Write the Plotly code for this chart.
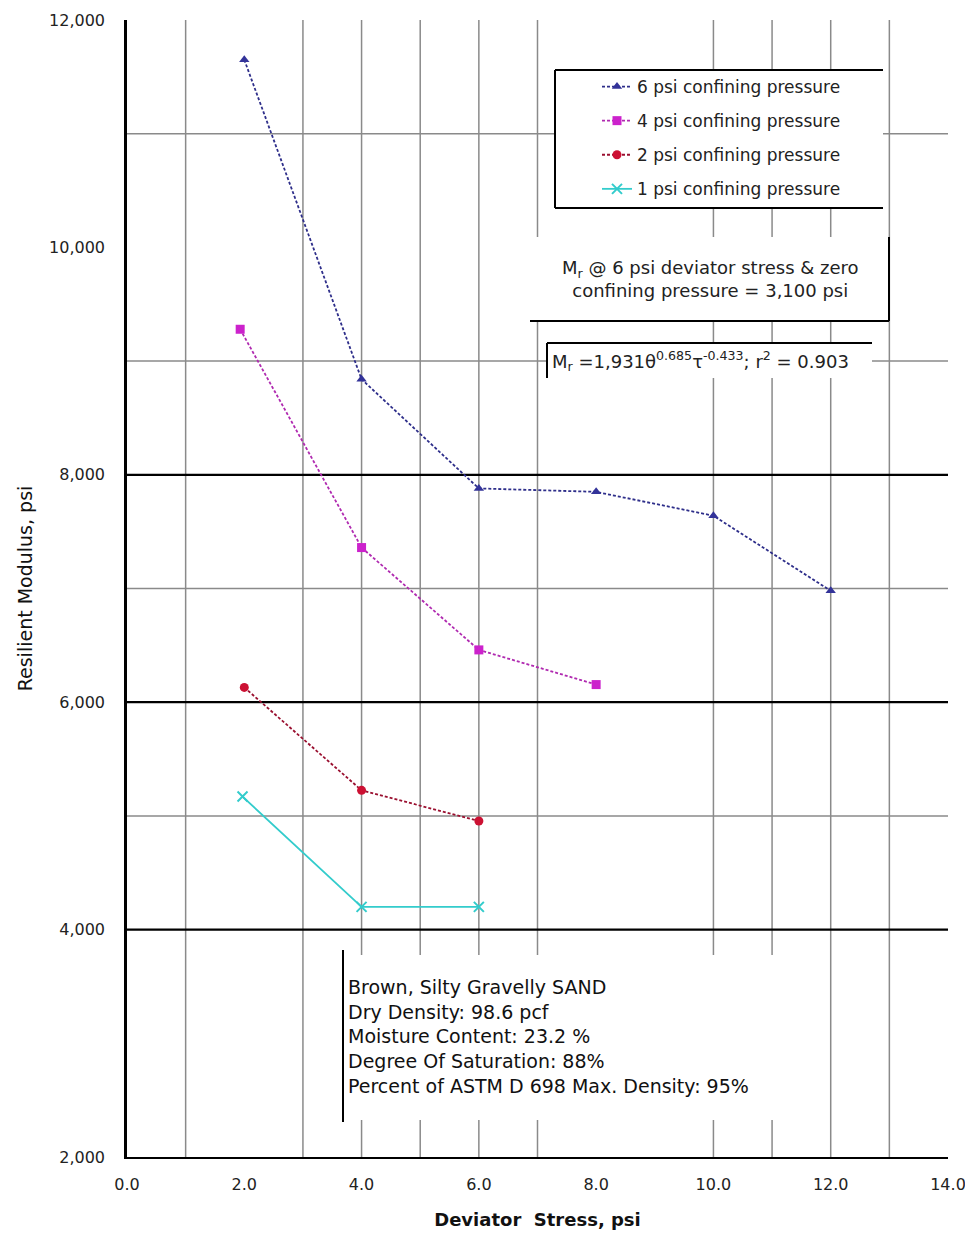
import plotly.graph_objects as go

# ---------------- data ----------------
x_6psi = [2, 4, 6, 8, 10, 12]
y_6psi = [11650, 8840, 7880, 7850, 7640, 6980]

x_4psi = [1.93, 4, 6, 8]
y_4psi = [9280, 7360, 6460, 6155]

x_2psi = [2, 4, 6]
y_2psi = [6130, 5225, 4955]

x_1psi = [1.97, 4, 6]
y_1psi = [5170, 4200, 4200]

series_names = ["6 psi confining pressure", "4 psi confining pressure",
                "2 psi confining pressure", "1 psi confining pressure"]

x_tick_vals = [0, 2, 4, 6, 8, 10, 12, 14]
x_tick_text = ["0.0", "2.0", "4.0", "6.0", "8.0", "10.0", "12.0", "14.0"]
y_tick_vals = [2000, 4000, 6000, 8000, 10000, 12000]

v_grid = [1, 3, 4, 5, 6, 7, 10, 11, 12, 13]
h_grid_major = [4000, 6000, 8000]
h_grid_minor = [5000, 7000, 9000, 11000]

sample_lines = ["Brown, Silty Gravelly SAND",
                "Dry Density: 98.6 pcf",
                "Moisture Content: 23.2 %",
                "Degree Of Saturation: 88%",
                "Percent of ASTM D 698 Max. Density: 95%"]

FONT = "DejaVu Sans, Liberation Sans, Arial, sans-serif"

fig = go.Figure()

fig.add_trace(go.Scatter(x=x_6psi, y=y_6psi, name=series_names[0], mode="lines+markers",
                         legendgroup="a",
                         line=dict(color="#2e2e8a", width=1.8, dash="3px,2px"),
                         marker=dict(symbol="triangle-up", size=9, color="#333399")))
fig.add_trace(go.Scatter(x=x_4psi, y=y_4psi, name=series_names[1], mode="lines+markers",
                         legendgroup="b",
                         line=dict(color="#b02ab0", width=1.8, dash="3px,2px"),
                         marker=dict(symbol="square", size=9, color="#cc22cc")))
fig.add_trace(go.Scatter(x=x_2psi, y=y_2psi, name=series_names[2], mode="lines+markers",
                         legendgroup="c",
                         line=dict(color="#9a1030", width=1.8, dash="3px,2px"),
                         marker=dict(symbol="circle", size=9, color="#cc1133")))
fig.add_trace(go.Scatter(x=x_1psi, y=y_1psi, name=series_names[3], mode="lines+markers",
                         legendgroup="d",
                         line=dict(color="#33cccc", width=1.8),
                         marker=dict(symbol="x-thin", size=10, color="#33cccc",
                                     line=dict(color="#33cccc", width=2))))

shapes = []
# grid lines
for v in v_grid:
    shapes.append(dict(type="line", xref="x", yref="y", x0=v, x1=v, y0=2000, y1=12000,
                       line=dict(color="#8a8a8a", width=1.5), layer="below"))
for h in h_grid_minor:
    shapes.append(dict(type="line", xref="x", yref="y", x0=0, x1=14, y0=h, y1=h,
                       line=dict(color="#8a8a8a", width=1.5), layer="below"))
for h in h_grid_major:
    shapes.append(dict(type="line", xref="x", yref="y", x0=0, x1=14, y0=h, y1=h,
                       line=dict(color="black", width=2.2), layer="below"))

# helpers converting reference-page pixel positions (decorations only) to axis units
def px_x(p):
    return (p - 127) / (948 - 127) * 14

def px_y(p):
    return 2000 + (1157 - p) / (1157 - 20) * 10000

def white_rect(x0, y0, x1, y1):
    shapes.append(dict(type="rect", xref="x", yref="y", x0=px_x(x0), x1=px_x(x1),
                       y0=px_y(y0), y1=px_y(y1), fillcolor="white",
                       line=dict(width=0), layer="below"))

def seg(x0, y0, x1, y1, w=2):
    shapes.append(dict(type="line", xref="x", yref="y", x0=px_x(x0), x1=px_x(x1),
                       y0=px_y(y0), y1=px_y(y1), line=dict(color="black", width=w),
                       layer="below"))

# legend box
white_rect(555, 70, 883, 208)
seg(555, 70, 883, 70)
seg(555, 208, 883, 208)
seg(555, 70, 555, 208)
# M_r box
white_rect(530, 237, 889, 321)
seg(889, 237, 889, 321)
seg(530, 321, 889, 321)
# formula box
white_rect(547, 343, 872, 378)
seg(547, 343, 872, 343)
seg(547, 343, 547, 378)
# sample box
white_rect(343, 955, 800, 1120)
seg(343, 950, 343, 1122)

fig.update_layout(shapes=shapes)

annotations = [
    dict(xref="x", yref="y", x=px_x(710), y=px_y(279),
         text="M<sub>r</sub> @ 6 psi deviator stress & zero<br>confining pressure = 3,100 psi",
         showarrow=False, font=dict(family=FONT, size=18, color="#222"), align="center"),
    dict(xref="x", yref="y", x=px_x(550), y=px_y(361), xanchor="left",
         text="M<sub>r</sub> =1,931θ<sup>0.685</sup>τ<sup>-0.433</sup>; r<sup>2</sup> = 0.903",
         showarrow=False, font=dict(family=FONT, size=18, color="#222"), align="left"),
    dict(xref="x", yref="y", x=px_x(346), y=px_y(1036), xanchor="left",
         text="<br>".join(sample_lines),
         showarrow=False, font=dict(family=FONT, size=19, color="#111"), align="left"),
]
fig.update_layout(annotations=annotations)

fig.update_layout(
    width=965, height=1226,
    margin=dict(l=119, r=25, t=12, b=77, autoexpand=False),
    paper_bgcolor="white", plot_bgcolor="white",
    font=dict(family=FONT, color="#222"),
    legend=dict(x=(597 - 127) / 821, y=(1157 - 69) / 1137, xanchor="left", yanchor="top",
                bgcolor="rgba(0,0,0,0)", borderwidth=0,
                font=dict(family=FONT, size=17, color="#222"),
                tracegroupgap=9),
    xaxis=dict(range=[0, 14], tickvals=x_tick_vals, ticktext=x_tick_text,
               showgrid=False, zeroline=False, showline=True, linecolor="black",
               linewidth=2, ticks="", ticklabelstandoff=12,
               tickfont=dict(family=FONT, size=16, color="#222"),
               title=dict(text="<b>Deviator  Stress, psi</b>", standoff=20,
                          font=dict(family=FONT, size=18, color="#111"))),
    yaxis=dict(range=[2000, 12000], tickvals=y_tick_vals, tickformat=",",
               showgrid=False, zeroline=False, showline=True, linecolor="black",
               linewidth=2.5, ticks="", ticklabelstandoff=16,
               tickfont=dict(family=FONT, size=16, color="#222"),
               title=dict(text="Resilient Modulus, psi", standoff=12,
                          font=dict(family=FONT, size=19, color="#111"))),
)

fig.write_html("out.html")
